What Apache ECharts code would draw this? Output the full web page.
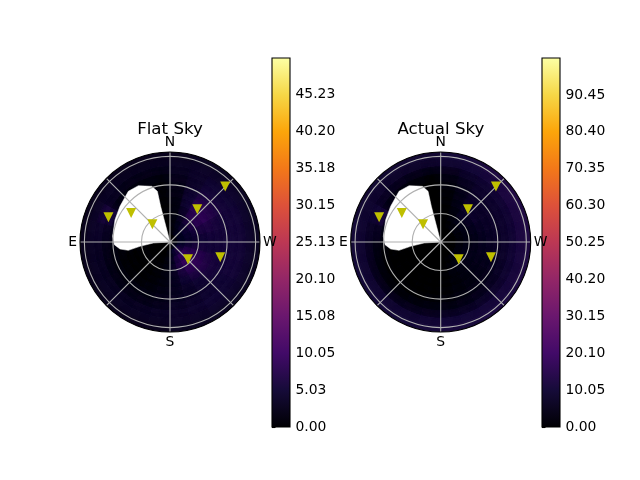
<!DOCTYPE html>
<html><head><meta charset="utf-8">
<style>html,body{margin:0;padding:0;background:#fff}#c{width:640px;height:480px}</style>
<script src="https://cdn.jsdelivr.net/npm/echarts@6/dist/echarts.min.js"></script>
</head><body><div id="c"></div>
<script>
const titles = ['Flat Sky', 'Actual Sky'];
const compass = ['N','','E','','S','','W','','N'];
const inferno = ['#000004','#160b39','#420a68','#6a176e','#932667','#bc3754','#dd513a','#f37819','#fca50a','#f6d746','#fcffa4'];
const flatTicks = [0,5.03,10.05,15.08,20.10,25.13,30.15,35.18,40.20,45.23];
const actualTicks = [0,10.05,20.10,30.15,40.20,50.25,60.30,70.35,80.40,90.45];
const flatMax = 50.25, actualMax = 100.5;
const zenithMax = 94.6;
const ringCentres = [4,12,20,28,36,44,52,60,68,76,84,92];
const ringHalf = 4;
const sectorCentres = [7.5,22.5,37.5,52.5,67.5,82.5,97.5,112.5,127.5,142.5,157.5,172.5,187.5,202.5,217.5,232.5,247.5,262.5,277.5,292.5,307.5,322.5,337.5,352.5];
const sectorHalf = 7.5;
// rows = rings from centre outwards, columns = sectors from N through E, S, W
const flatSky = [
[1,1,1,1,1,1,1,1,1,1,1,2,3,4,5,6,5,4,3,3,3,3,2,1],
[1,1,1,1,1,1,1,1,1,1,1,1.5,3,5,7,8,6,4.5,4,4,4,4,3,1.5],
[1,1,1,1,1,1,1,1,1,1,1,1.5,3,6,8.5,9.5,8,5.5,4.5,4.5,5,5,3,1.5],
[1,1,1,1,1,1,1,1,1,1,1,1.5,3.5,6.5,9.5,10,8.5,6,4.5,5,6.5,6,3.5,1.5],
[1,1,1,1,1,1,1,.7,.7,.8,1,1.5,3,6,8.5,9,8,6,5,6,8,8,4,1.5],
[1,1,1,1,1,1,1,.7,.7,.8,1,1.5,3,5,6.5,7.5,7,5.5,5.5,6.5,8.5,8.5,5,1.5],
[1,1,1,1,1.5,1.5,1,.8,.8,.9,1.2,1.8,3,4,5,6,6,5.5,5.5,6,7.5,8,5,2],
[1,1,1,1.2,3,2,1.4,1.2,1.2,1.4,1.7,2.3,3,3.5,4.5,5.5,5.5,5.5,5.5,5.5,6.5,6.5,4.5,2],
[1.2,1.2,1.2,1.5,5.5,3,2.2,1.8,1.8,2,2.2,2.6,3.5,4,4.5,5,5.5,5.5,5.5,5.5,5.5,5.5,4,2.5],
[2.2,2.2,2.2,3,6,4,3.2,3,3,3,3.2,3.5,4,4.5,5,5,5.5,5.5,5.5,5.5,5,5,4,3],
[3,3,3,3.5,4,4,3.5,3.5,3.5,3.5,3.5,3.5,4,4,4.5,4.5,4.5,4.5,4.5,4.5,4.5,4,4,3.5],
[2.5,2.5,2.5,2.5,2.5,2.5,2.5,2.5,2.5,2.5,2.5,2.5,3,3,3,3,3,3,3,3,3,3,3,2.5]
];
const actualSky = [
[1,1,1,1,1,1,1,1,1,1,1,1,1,1.5,2,2,2,2,2,2,2,2,1.5,1],
[1,1,1,1,1,1,1,1,1,1,1,1,1.5,2,2.5,3,3,3,3,3,3,3,2,1],
[1,1,1,1,1,1,1,1,1,1,1,1,1.5,2.5,3.5,4,4,4,3.5,3.5,4,4,2.5,1],
[1,1,1,1,1,1,1,1,1,1,1,1,1.5,2.5,4,5,5,4.5,4,4,5,5,3,1],
[1,1,1,1,1,1,1,.7,.7,.8,1,1,1.5,3,4,5,5.5,5,5,5.5,6.5,7,3.5,1],
[1,1,1,1,1,1,1,.7,.7,.8,1,1,1.5,2.5,3.5,4.5,5.5,6,6,7,8.5,9,4.5,1.5],
[1,1,1,1,1.5,1.5,1,.7,.7,.8,1,1,1.5,2.5,3.5,4.5,5.5,6.5,7,7.5,8,8.5,5,1.5],
[1,1,1,1.5,4,2.5,1.5,1,.8,1,1,1.5,2,3,4,5,6,7,7.5,8,8,8,5,2],
[1,1.5,2,3,12,6,3,2,1.5,1.5,2,2.5,3,4,5,6,7,8,8.5,8.5,8.5,8.5,6,3],
[3.5,4,5,6.5,10,7,5.5,4.5,4,4,4.5,5,5.5,6,7,8,9,9.5,9.5,9.5,9.5,9,7.5,5],
[8,8,8,8.5,9,9,9,9,9,9,9,9.5,10,10,10.5,11,11,11.5,12,12,12,11,10,9],
[9,9,9,9,9,10,10,10,10,10,10,10.5,11,11,11.5,11.5,12,12,12.5,12.5,12.5,12,11,10]
];
// white gap: [zenith angle, azimuth] around the outline
const gapOutline = [[0,14],[20.6,14.7],[38.8,14.7],[54.9,14],[61.6,18.2],[67.9,29.3],[69,39.4],[64.6,54.5],[62.4,67.9],[60.6,84.4],[58.6,92.7],[53.1,98],[44.7,101.3],[31.9,98.2],[17.5,93.4],[0,93]];
// markers: [zenith angle, azimuth]
const markerPoints = [[70.1,67.4],[51.6,52.4],[27,43.4],[45.5,321],[83.1,315.7],[25.5,227.8],[54.9,254.1]];

const FONT = '"DejaVu Sans"';
const cells = rows => { const d = [];
  rows.forEach((row, i) => row.forEach((v, j) => d.push([ringCentres[i], sectorCentres[j], v])));
  return d; };
function renderCell(params, api) {
  const r = api.value(0), a = api.value(1);
  const r0 = r - ringHalf, r1 = Math.min(r + ringHalf, zenithMax);
  const pts = [];
  for (let k = 0; k <= 4; k++) pts.push(api.coord([r1, a - sectorHalf + k * sectorHalf / 2]));
  for (let k = 4; k >= 0; k--) pts.push(api.coord([r0, a - sectorHalf + k * sectorHalf / 2]));
  const col = api.visual('color');
  return {type:'polygon', shape:{points:pts}, style:{fill:col, stroke:col, lineWidth:0.7, shadowColor:col, shadowBlur:10}};
}
function renderGap(params, api) {
  if (params.dataIndex !== 0) return null;
  return {type:'polygon', shape:{points:gapOutline.map(p => api.coord(p))}, style:{fill:'#fff', stroke:'#fff', lineWidth:0.5}};
}
function renderBar(params, api) {
  const a = api.coord([0, 0]), b = api.coord([1, api.value(1)]);
  const stops = inferno.map((c, i) => ({offset: i / (inferno.length - 1), color: c}));
  return {type:'rect', shape:{x:a[0], y:b[1], width:b[0]-a[0], height:a[1]-b[1]},
    style:{fill:new echarts.graphic.LinearGradient(0,1,0,0,stops)}};
}
const polarAt = cx => ({center:[cx,242], radius:90});
const angleAxis = i => ({polarIndex:i, type:'value', min:0, max:360, interval:45, startAngle:90, clockwise:false, z:10,
  axisLine:{show:true, lineStyle:{color:'#000', width:1.1}}, axisTick:{show:false},
  axisLabel:{margin:3, color:'#000', fontFamily:FONT, fontSize:13.9, formatter:v => compass[v/45]},
  splitLine:{show:true, lineStyle:{color:'#b0b0b0', width:1.1}}});
const radiusAxis = i => ({polarIndex:i, type:'value', min:0, max:zenithMax, interval:30, z:10,
  axisLine:{show:false}, axisTick:{show:false}, axisLabel:{show:false},
  splitLine:{show:true, lineStyle:{color:['#b0b0b0','#b0b0b0','#b0b0b0','#b0b0b0','rgba(0,0,0,0)'], width:1.1}}});
const barGrid = l => ({left:l, top:58, width:18, height:369, show:true, borderColor:'#000', borderWidth:1.1, backgroundColor:'transparent', z:5});
const barX = i => ({gridIndex:i, type:'value', min:0, max:1, show:false});
const barY = (i, ticks, max) => ({gridIndex:i, type:'value', min:0, max:max, position:'right', splitLine:{show:false},
  axisLine:{show:false}, axisTick:{show:true, length:3.5, customValues:ticks, lineStyle:{color:'#000', width:1.1}},
  axisLabel:{show:true, margin:5.5, color:'#000', fontFamily:FONT, fontSize:13.9, customValues:ticks, formatter:v => v === 0 ? '0.00' : v.toFixed(2)}});
const heat = (i, rows) => ({type:'custom', coordinateSystem:'polar', polarIndex:i, data:cells(rows), encode:{radius:0, angle:1, value:2}, renderItem:renderCell, silent:true, z:2, clip:true});
const gap = i => ({type:'custom', coordinateSystem:'polar', polarIndex:i, data:[[0,0]], encode:{radius:0, angle:1}, renderItem:renderGap, silent:true, z:3});
const marks = i => ({type:'scatter', coordinateSystem:'polar', polarIndex:i, data:markerPoints, encode:{radius:0, angle:1}, symbol:'triangle', symbolRotate:180, symbolSize:[10,10], symbolOffset:[0,1], itemStyle:{color:'#bfbf00', opacity:1}, silent:true, z:20});
const bar = (i, max) => ({type:'custom', coordinateSystem:'cartesian2d', xAxisIndex:i, yAxisIndex:i, data:[[0,max]], encode:{x:0, y:1}, renderItem:renderBar, silent:true, z:2});

const chart = echarts.init(document.getElementById('c'), null, {renderer:'canvas', width:640, height:480});
chart.setOption({
  animation:false, backgroundColor:'#fff',
  title:[
    {text:titles[0], left:165, top:116, textAlign:'center', textStyle:{fontFamily:FONT, fontSize:16.67, fontWeight:'normal', color:'#000'}},
    {text:titles[1], left:436, top:116, textAlign:'center', textStyle:{fontFamily:FONT, fontSize:16.67, fontWeight:'normal', color:'#000'}}
  ],
  polar:[polarAt(170), polarAt(440.7)],
  angleAxis:[angleAxis(0), angleAxis(1)],
  radiusAxis:[radiusAxis(0), radiusAxis(1)],
  grid:[barGrid(272), barGrid(542)],
  xAxis:[barX(0), barX(1)],
  yAxis:[barY(0, flatTicks, flatMax), barY(1, actualTicks, actualMax)],
  visualMap:[
    {show:false, type:'continuous', seriesIndex:0, dimension:2, min:0, max:flatMax, inRange:{color:inferno}},
    {show:false, type:'continuous', seriesIndex:1, dimension:2, min:0, max:actualMax, inRange:{color:inferno}}
  ],
  series:[heat(0, flatSky), heat(1, actualSky), gap(0), gap(1), marks(0), marks(1), bar(0, flatMax), bar(1, actualMax)]
});
</script></body></html>
